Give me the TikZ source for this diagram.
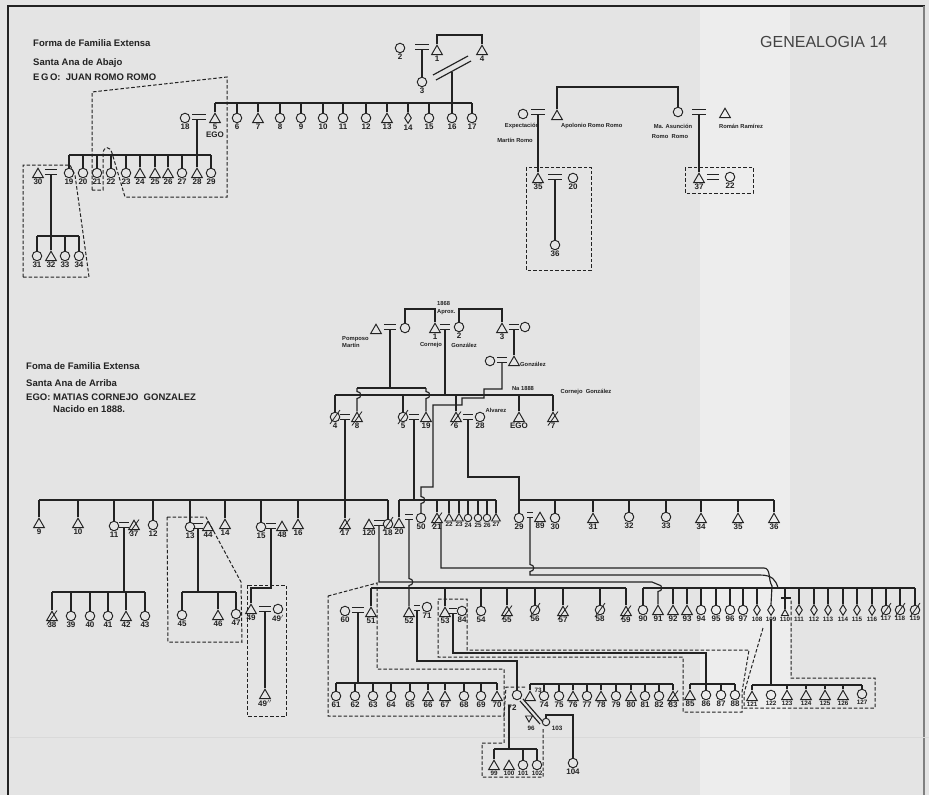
\documentclass[tikz,border=0pt]{standalone}
\usepackage{fontspec}
\setmainfont{Liberation Sans}
\usetikzlibrary{shapes.geometric,calc}
\definecolor{ink}{HTML}{222222}
\definecolor{paper}{HTML}{E4E4E4}
\definecolor{paperlt}{HTML}{EDEDED}
\newcommand\eqs[4][11]{\node[eqn,minimum width=#1pt] (#2) at (#3,#4) {};
  \draw[ln] (#2.north west) -- (#2.north east) (#2.south west) -- (#2.south east);}
\newcommand\sibs[4]{\draw[ln] (#2.north |- 0,#1) -- (#3.north |- 0,#1);
  \foreach \q in {#4} {\draw[ln] (\q.north) -- (\q.north |- 0,#1);}}
\newcommand\slsh[1]{\draw[ln,line width=0.8pt] ([shift={(-5pt,-7pt)}]#1.center) -- ([shift={(5pt,7pt)}]#1.center);}
\newcommand\pp[6][]{\node[#2,#1,label={[lbl]below:{#6}}] (#3) at (#4,#5) {};}
\newcommand\ps[6][]{\node[#2,#1,label={[slb]below:{#6}}] (#3) at (#4,#5) {};}
\newcommand\hv[2]{-- (#1,#2-3.5) .. controls (#1+5,#2-3.5) and (#1+5,#2+3.5) .. (#1,#2+3.5)}
\begin{document}
\begin{tikzpicture}[x=1pt,y=-1pt,
  ln/.style={draw=ink,line width=1.15pt},
  dsh/.style={draw=ink,line width=1pt,dash pattern=on 3.5pt off 2pt},
  eqn/.style={inner sep=0pt,minimum height=4pt},
  F/.style={circle,draw=ink,line width=0.95pt,minimum size=9.5pt,inner sep=0pt},
  M/.style={regular polygon,regular polygon sides=3,draw=ink,line width=0.95pt,minimum size=12.5pt,inner sep=0pt,yshift=-1.5pt},
  D/.style={diamond,draw=ink,line width=0.95pt,minimum width=7pt,minimum height=11pt,inner sep=0pt},
  sm/.style={minimum size=7.5pt},
  smt/.style={minimum size=10pt},
  lbl/.style={font=\bfseries\fontsize{8}{8.5}\selectfont,text=ink,inner sep=0.6pt},
  slb/.style={font=\bfseries\fontsize{6.3}{7}\selectfont,text=ink,inner sep=0.5pt},
  nm/.style={font=\bfseries\fontsize{5.8}{7.5}\selectfont,text=ink,inner sep=0pt},
  ttl/.style={font=\bfseries\fontsize{9.5}{11}\selectfont,text=ink,anchor=west,inner sep=0pt}]
\useasboundingbox (0,0) rectangle (929,795);
\fill[paper] (0,0) rectangle (929,795);
\fill[paperlt] (700,0) rectangle (790,795);
\draw[ink,line width=2.6pt] (8,795) -- (8,6) -- (925,6);
\draw[gray,line width=1.2pt] (924,6) -- (924,795);
\draw[white!70!gray,line width=0.8pt] (10,737) -- (929,737);
% ---------------- titles
\node[ttl] (t1) at (33,43) {Forma de Familia Extensa};
\node[ttl] (t2) at (33,63) {Santa Ana de Abajo};
\node[ttl] (t3) at (33,77) {E\,G\,O:\ \ JUAN ROMO ROMO};
\node[font=\fontsize{16}{18}\selectfont,text=ink!85,anchor=west,inner sep=0pt] (t0) at (760,42) {GENEALOGIA 14};
\node[ttl] (t4) at (26,366) {Foma de Familia Extensa};
\node[ttl] (t5) at (26,383) {Santa Ana de Arriba};
\node[ttl] (t6) at (26,397) {EGO: MATIAS CORNEJO\ \ GONZALEZ};
\node[ttl] (t7) at (53,409) {Nacido en 1888.};
% ================= SECTION A
\pp{F}{a2}{400}{48}{2}
\eqs[13]{ea12}{422}{47}
\pp{M}{a1}{437}{50}{1}
\pp{M}{a4}{482}{50}{4}
\pp{F}{a3}{422}{82}{3}
\draw[ln] (a1.north) -- (a1.north |- 0,35) -| (a4.north);
\draw[ln] (ea12.south) -- (a3.north);
\draw[ln] (433,75) -- (468,56);
\draw[ln] (436,80) -- (471,61);
\coordinate (ma34) at (452,71.5);
\draw[ln] (ma34) -- (452,103);
\node[M,label={[lbl,align=center]below:{5\\EGO}}] (a5) at (215,118) {};
\pp{F}{a6}{237}{118}{6}
\pp{M}{a7}{258}{118}{7}
\pp{F}{a8}{280}{118}{8}
\pp{F}{a9}{301}{118}{9}
\pp{F}{a10}{323}{118}{10}
\pp{F}{a11}{343}{118}{11}
\pp{F}{a12}{366}{118}{12}
\pp{M}{a13}{387}{118}{13}
\pp{D}{a14}{408}{118}{14}
\pp{F}{a15}{429}{118}{15}
\pp{F}{a16}{452}{118}{16}
\pp{F}{a17}{472}{118}{17}
\sibs{103}{a5}{a17}{a5,a6,a7,a8,a9,a10,a11,a12,a13,a14,a15,a16,a17}
\pp{F}{a18}{185}{118}{18}
\eqs[13]{ea18}{199}{117}
\pp{F}{a19}{69}{173}{19}
\pp{F}{a20}{83}{173}{20}
\pp{F}{a21}{97}{173}{21}
\pp{F}{a22}{111}{173}{22}
\pp{F}{a23}{126}{173}{23}
\pp{M}{a24}{140}{173}{24}
\pp{M}{a25}{155}{173}{25}
\pp{M}{a26}{168}{173}{26}
\pp{F}{a27}{182}{173}{27}
\pp{M}{a28}{197}{173}{28}
\pp{F}{a29}{211}{173}{29}
\sibs{155}{a19}{a29}{a19,a20,a21,a22,a23,a24,a25,a26,a27,a29}
\draw[ln] (ea18.south -| a28.north) -- (a28.north);
\pp{M}{a30}{38}{173}{30}
\eqs[12]{ea30}{51}{172}
\draw[ln] (ea30.south) -- (ea30.south |- 0,236);
\pp{F}{a31}{37}{256}{31}
\pp{M}{a32}{51}{256}{32}
\pp{F}{a33}{65}{256}{33}
\pp{F}{a34}{79}{256}{34}
\sibs{236}{a31}{a34}{a31,a32,a33,a34}
\draw[dsh] (92,190) -- (92,92) -- (227,77) -- (227,197) -- (125,197) -- (112,153) .. controls (110,146) and (104,146) .. (103,153) -- (103,190) -- cycle;
\draw[dsh] (23,277) -- (23,165) -- (70,165) -- (75,175) -- (87,262) -- (89,277) -- cycle;
% right part of section A
\node[F] (aex) at (523,114) {};
\eqs[13]{eaex}{538}{112}
\node[M] (aap) at (557,115) {};
\node[nm] (laex) at (522,126) {Expectación};
\node[nm] (lamr) at (515,140) {Martín Romo};
\node[nm,anchor=west] (laap) at (561,126) {Apolonio Romo Romo};
\node[F] (aas) at (678,112) {};
\eqs[13]{eaas}{699}{112}
\node[M] (arr) at (725,113) {};
\node[nm] (laas) at (673,126) {Ma. Asunción};
\node[nm] (laas2) at (670,137) {Romo\ \ Romo};
\node[nm] (larr) at (741,126) {Román Ramírez};
\draw[ln] (aap.north) -- (aap.north |- 0,87) -| (aas.north);
\pp{M}{a35}{538}{178}{35}
\eqs[13]{ea35}{555}{177}
\pp{F}{a20b}{573}{178}{20}
\pp{F}{a36}{555}{245}{36}
\draw[ln] (eaex.south) -- (a35.north);
\draw[ln] (ea35.south) -- (a36.north);
\draw[dsh] (526,167) rectangle (591,270);
\pp{M}{a37}{699}{178}{37}
\eqs[12]{ea37}{713}{177}
\pp{F}{a22b}{730}{177}{22}
\draw[ln] (eaas.south) -- (a37.north);
\draw[dsh] (685,167) rectangle (753,193);
% ================= SECTION B
\node[M] (bpm) at (376,329) {};
\eqs[12]{ebpm}{390}{327}
\node[F] (bpw) at (405,328) {};
\node[nm,align=left,anchor=west] (lpm) at (342,342) {Pomposo\\Martín};
\pp{M}{b1}{435}{328}{1}
\eqs[10]{eb1}{445}{327}
\pp{F}{b2}{459}{327}{2}
\node[nm,align=left,anchor=west] (l1868) at (437,308) {1868\\Aprox.};
\node[nm] (lcor) at (431,345) {Cornejo};
\node[nm] (lgon1) at (464,345) {González};
\draw[ln] (bpw.north) -- (bpw.north |- 0,309) -| (b1.north);
\pp{M}{b3}{502}{328}{3}
\eqs[10]{eb3}{514}{327}
\node[F] (b3w) at (525,327) {};
\draw[ln] (b2.north) -- (b2.north |- 0,309) -| (b3.north);
\node[M] (bgo) at (514,361) {};
\node[nm,anchor=west] (lgon2) at (520,364) {González};
\draw[ln] (eb3.south) -- (bgo.north);
\node[F] (bgw) at (490,361) {};
\eqs[10]{ebgo}{502}{360}
% generation of ego
\pp{F}{b4}{335}{417}{4} \slsh{b4}
\eqs[10]{eb4}{345}{417}
\pp{M}{b8}{357}{417}{8} \slsh{b8}
\pp{F}{b5}{403}{417}{5} \slsh{b5}
\eqs[10]{eb5}{414}{417}
\pp{M}{b19}{426}{417}{19}
\pp{M}{b6}{456}{417}{6} \slsh{b6}
\eqs[10]{eb6}{468}{417}
\pp{F}{b28}{480}{417}{28}
\node[nm] (lalv) at (496,410) {Alvarez};
\pp{M}{bego}{519}{417}{EGO}
\pp{M}{b7}{553}{417}{7} \slsh{b7}
\node[nm] (lna) at (523,388) {Na 1888};
\node[nm] (lcg) at (586,392) {Cornejo\ \ González};
\draw[ln] (eb1.south) -- (eb1.south |- 0,395);
\sibs{395}{b4}{b7}{b4,b5,b6,bego,b7}
\draw[ln] (ebpm.south) -- (ebpm.south |- 0,388);
\draw[ln] (b8.north |- 0,388) -- (b19.north |- 0,388);
\draw[ln] (b8.north |- 0,388) \hv{357}{395} -- (b8.north);
\draw[ln] (b19.north |- 0,388) \hv{426}{395} -- (b19.north);
% children row
\pp{M}{b9}{39}{523}{9}
\pp{M}{b10}{78}{523}{10}
\pp{F}{b11}{114}{526}{11}
\eqs[9]{eb11}{124}{525}
\pp{M}{b37}{134}{525}{37} \slsh{b37}
\pp{F}{b12}{153}{525}{12}
\pp{F}{b13}{190}{527}{13}
\eqs[9]{eb13}{198}{526}
\pp{M}{b44}{208}{526}{44}
\pp{M}{b14}{225}{524}{14}
\pp{F}{b15}{261}{527}{15}
\eqs[9]{eb15}{271}{526}
\pp{M}{b48}{282}{526}{48}
\pp{M}{b16}{298}{524}{16}
\pp{M}{b17}{345}{524}{17} \slsh{b17}
\pp{M}{b120}{369}{524}{120}
\eqs[9]{eb120}{379}{523}
\pp{F}{b18}{388}{524}{18} \slsh{b18}
\pp{M}{b20}{399}{523}{20}
\eqs[8]{eb20}{409}{517}
\pp{F}{b50}{421}{518}{50}
\sibs{500}{b9}{b18}{b9,b10,b11,b12,b13,b14,b15,b16,b18}
\draw[ln] (eb4.south) -- (b17.north);
\draw[ln] (ebgo.south) -- (502,389) -- (484,389) -- (484,398) -- (462,398) -- (462,405) -- (433,405) -- (433,487) -- (421,487) \hv{421}{500} -- (b50.north);
\draw[ln] (eb5.south) -- (eb5.south |- 0,500);
\pp{M}{b21}{437}{518}{21} \slsh{b21}
\ps[smt]{M}{b22}{449}{517}{22}
\ps[smt]{M}{b23}{459}{517}{23}
\ps[sm]{F}{b24}{468}{518}{24}
\ps[sm]{F}{b25}{478}{518}{25}
\ps[sm]{F}{b26}{487}{518}{26}
\ps[smt]{M}{b27}{496}{517}{27}
\sibs{500}{b20}{b27}{b20,b21,b22,b23,b24,b25,b26,b27}
\pp{F}{b29}{519}{518}{29}
\eqs[6]{eb29}{530}{515}
\pp{M}{b89}{540}{517}{89}
\pp{F}{b30}{555}{518}{30}
\pp{M}{b31}{593}{518}{31}
\pp{F}{b32}{629}{517}{32}
\pp{F}{b33}{666}{517}{33}
\pp{M}{b34}{701}{518}{34}
\pp{M}{b35}{738}{518}{35}
\pp{M}{b36}{774}{518}{36}
\draw[ln] (eb6.south) |- (b29.north |- 0,477) -- (b29.north);
\sibs{500}{b29}{b36}{b30,b31,b32,b33,b34,b35,b36}
% left families
\draw[ln] (eb11.south) -- (eb11.south |- 0,592);
\pp{M}{b38}{52}{616}{38} \slsh{b38}
\pp{F}{b39}{71}{616}{39}
\pp{F}{b40}{90}{616}{40}
\pp{F}{b41}{108}{616}{41}
\pp{M}{b42}{126}{616}{42}
\pp{F}{b43}{145}{616}{43}
\sibs{592}{b38}{b43}{b38,b39,b40,b41,b42,b43}
\draw[ln] (eb13.south) -- (eb13.south |- 0,592);
\pp{F}{b45}{182}{615}{45}
\pp{M}{b46}{218}{615}{46}
\pp{F}{b47}{236}{614}{47}
\sibs{592}{b45}{b47}{b45,b46,b47}
\draw[dsh] (167,517) -- (206,517) -- (241,582) -- (242,642) -- (168,642) -- cycle;
\pp{M}{b49}{251}{609}{49}
\eqs[11]{eb49}{265}{609}
\pp{F}{b49a}{278}{609}{49$'$}
\pp{M}{b49b}{265}{694}{49$''$}
\draw[ln] (eb15.south) -- (eb15.south |- 0,588) -| (b49.north);
\draw[ln] (eb49.south) -- (b49b.north);
\draw[dsh] (247,585) rectangle (286,716);
% 60 - 70
\pp{F}{b60}{345}{611}{60}
\eqs[12]{eb60}{358}{610}
\pp{M}{b51}{371}{612}{51}
\draw[ln] (eb60.south) -- (eb60.south |- 0,683);
\pp{F}{b61}{336}{696}{61}
\pp{F}{b62}{355}{696}{62}
\pp{F}{b63}{373}{696}{63}
\pp{F}{b64}{391}{696}{64}
\pp{F}{b65}{410}{696}{65}
\pp{M}{b66}{428}{696}{66}
\pp{M}{b67}{445}{696}{67}
\pp{F}{b68}{464}{696}{68}
\pp{F}{b69}{481}{696}{69}
\pp{M}{b70}{497}{696}{70}
\sibs{683}{b61}{b70}{b61,b62,b63,b64,b65,b66,b67,b68,b69,b70}
\draw[dsh] (328,596) -- (377,583) -- (377,669) -- (504,669) -- (504,716) -- (328,716) -- cycle;
% 51 - 59
\pp{M}{b52}{409}{612}{52}
\eqs[6]{eb52}{417}{608}
\pp{F}{b71}{427}{607}{71}
\pp{M}{b53}{445}{612}{53}
\eqs[8]{eb53}{453}{611}
\pp{F}{b84}{462}{611}{84}
\pp{F}{b54}{481}{611}{54}
\pp{M}{b55}{507}{611}{55} \slsh{b55}
\pp{F}{b56}{535}{610}{56} \slsh{b56}
\pp{M}{b57}{563}{611}{57} \slsh{b57}
\pp{F}{b58}{600}{610}{58} \slsh{b58}
\pp{M}{b59}{626}{611}{59} \slsh{b59}
\sibs{588}{b51}{b59}{b51,b53,b54,b55,b56,b57,b58,b59}
\draw[ln] (eb20.south) \hv{409}{582} -- (b52.north);
% 90 - 119
\pp{F}{b90}{643}{610}{90}
\pp{M}{b91}{658}{610}{91}
\pp{M}{b92}{673}{610}{92}
\pp{M}{b93}{687}{610}{93}
\pp{F}{b94}{701}{610}{94}
\pp{F}{b95}{716}{610}{95}
\pp{F}{b96r}{730}{610}{96}
\pp{F}{b97}{743}{610}{97}
\ps{D}{b108}{757}{610}{108}
\ps{D}{b109}{771}{610}{109}
\ps[minimum size=8pt]{M}{b110}{785}{612}{110}
\ps{D}{b111}{799}{610}{111}
\ps{D}{b112}{814}{610}{112}
\ps{D}{b113}{828}{610}{113}
\ps{D}{b114}{843}{610}{114}
\ps{D}{b115}{857}{610}{115}
\ps{D}{b116}{872}{610}{116}
\ps{F}{b117}{886}{610}{117} \slsh{b117}
\ps{F}{b118}{900}{610}{118} \slsh{b118}
\ps{F}{b119}{915}{610}{119} \slsh{b119}
\sibs{588}{b90}{b119}{b90,b92,b93,b94,b95,b96r,b97,b108,b110,b111,b112,b113,b114,b115,b116,b117,b118,b119}
\draw[ln] (781,598) -- (791,598);
% long lines
\draw[ln] (eb120.south) -- (379,582) -- (652,582) \hv{658}{588} -- (b91.north);
\draw[ln] ([xshift=4pt]b21.south) -- (441,568) -- (764,568) .. controls (771,568) and (768,580) .. (772,586) -- (b109.north);
\draw[ln] (eb29.south) \hv{530}{568} -- (530,575) -- (760,575) .. controls (772,575) and (776,580) .. (778,588);
% 121 - 127
\ps{M}{b121}{752}{696}{121}
\ps{F}{b122}{771}{695}{122}
\ps{M}{b123}{787}{695}{123}
\ps{M}{b124}{806}{695}{124}
\ps{M}{b125}{825}{695}{125}
\ps{M}{b126}{843}{695}{126}
\ps{F}{b127}{862}{694}{127}
\draw[ln] ([yshift=-3pt]b109.south) -- (b109.south |- 0,685);
\sibs{685}{b121}{b127}{b121,b123,b124,b125,b126,b127}
\draw[dsh] (763,628) -- (744,693) -- (744,708) -- (875,708) -- (875,678) -- (791,678) -- (791,600);
% 72 - 88
\node[F] (b72) at (517,695) {};
\node[lbl] (l72) at (512,708) {72};
\node[M] (b73) at (530,696) {};
\node[slb] (l73) at (538,690) {73};
\pp{F}{b74}{544}{696}{74}
\pp{F}{b75}{559}{696}{75}
\pp{M}{b76}{573}{696}{76}
\pp{F}{b77}{587}{696}{77}
\pp{M}{b78}{601}{696}{78}
\pp{F}{b79}{616}{696}{79}
\pp{M}{b80}{631}{696}{80}
\pp{F}{b81}{645}{696}{81}
\pp{F}{b82}{659}{696}{82}
\pp{M}{b83}{673}{696}{83} \slsh{b83}
\sibs{684}{b73}{b83}{b73,b74,b75,b76,b77,b78,b79,b80,b81,b82,b83}
\draw[ln] (eb52.south) |- (b72.north |- 0,661) -- (b72.north);
\pp{M}{b85}{690}{695}{85}
\pp{F}{b86}{706}{695}{86}
\pp{F}{b87}{721}{695}{87}
\pp{F}{b88}{735}{695}{88}
\draw[ln] (eb53.south) |- (b86.north |- 0,653) -- (b86.north |- 0,684);
\sibs{684}{b85}{b88}{b85,b86,b87,b88}
\draw[dsh] (438,599) -- (467,599) -- (467,650) -- (749,650) -- (742,692) -- (742,712) -- (683,712) -- (683,657) -- (438,657) -- cycle;
% 96, 103, 104, 99 - 102
\node[regular polygon,regular polygon sides=3,shape border rotate=180,draw=ink,line width=0.9pt,minimum size=8pt,inner sep=0pt] (b96) at (529,718) {};
\node[slb] (l96) at (531,728) {96};
\node[F,sm] (b103) at (546,722) {};
\node[slb] (l103) at (557,728) {103};
\draw[ln] (520,701) -- (540,724);
\draw[ln] (523,699) -- (543,722);
\draw[ln] (b103.north) |- (573,715) -- (573,758);
\pp{F}{b104}{573}{763}{104}
\ps{M}{b99}{494}{765}{99}
\ps{M}{b100}{509}{765}{100}
\ps{F}{b101}{523}{765}{101}
\ps{F}{b102}{537}{765}{102}
\draw[ln] (509,705) -- (509,749);
\sibs{749}{b99}{b102}{b99,b101,b102}
\draw[dsh] (525,687) -- (506,687) -- (504,716) -- (504,743) -- (482,743) -- (482,777) -- (543,777) -- (543,728);
\end{tikzpicture}
\end{document}
